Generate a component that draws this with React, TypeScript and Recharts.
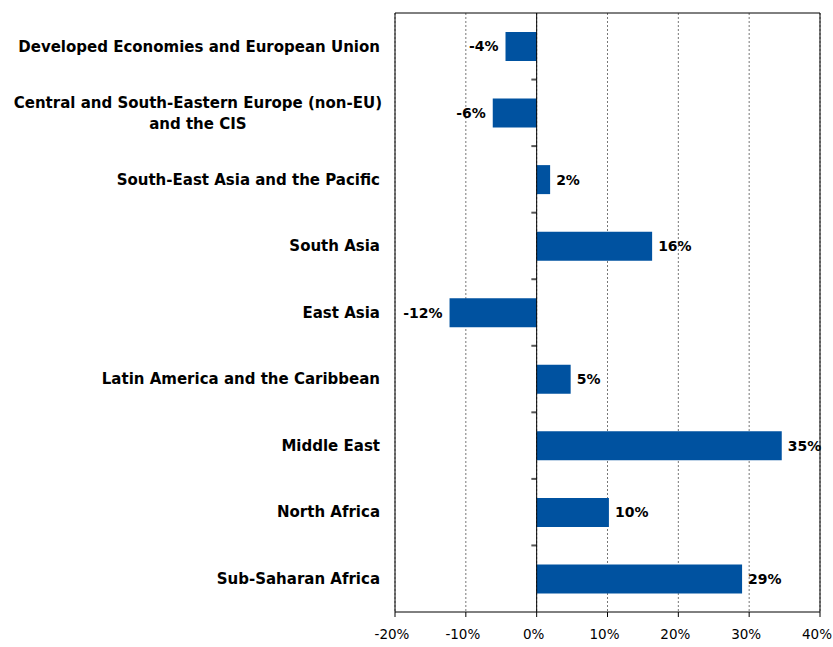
import React from 'react';
import { BarChart, Bar, XAxis, YAxis, CartesianGrid, ReferenceLine, LabelList } from 'recharts';

const categories = [
  'Developed Economies and European Union',
  'Central and South-Eastern Europe (non-EU)|and the CIS',
  'South-East Asia and the Pacific',
  'South Asia',
  'East Asia',
  'Latin America and the Caribbean',
  'Middle East',
  'North Africa',
  'Sub-Saharan Africa',
];
const values = [-4.4, -6.2, 1.9, 16.3, -12.3, 4.8, 34.6, 10.2, 29.0];
const valueLabels = ['-4%', '-6%', '2%', '16%', '-12%', '5%', '35%', '10%', '29%'];
const xTicks = [-20, -10, 0, 10, 20, 30, 40];

const data = categories.map((name, i) => ({ name, value: values[i], label: valueLabels[i] }));

const FONT = '"DejaVu Sans", Verdana, sans-serif';
const CAT_SIZE = 15;

const CategoryTick = (props: any) => {
  const { x, y, payload } = props;
  const lines = String(payload.value).split('|');
  if (lines.length === 1) {
    return (
      <text x={x} y={y} dy="0.35em" textAnchor="end" fontFamily={FONT} fontWeight="bold" fontSize={CAT_SIZE} fill="#000">
        {lines[0]}
      </text>
    );
  }
  let w = 370;
  try {
    const c = document.createElement('canvas').getContext('2d');
    if (c) {
      c.font = `bold ${CAT_SIZE}px ${FONT}`;
      w = Math.max(...lines.map((l) => c.measureText(l).width));
    }
  } catch (e) {
    w = 370;
  }
  const cx = x + 2 - w / 2;
  const lh = 21;
  const startY = y - ((lines.length - 1) * lh) / 2;
  return (
    <text textAnchor="middle" fontFamily={FONT} fontWeight="bold" fontSize={CAT_SIZE} fill="#000">
      {lines.map((l, i) => (
        <tspan key={i} x={cx} y={startY + i * lh} dy="0.35em">
          {l}
        </tspan>
      ))}
    </text>
  );
};

const XTick = (props: any) => {
  const { x, y, payload } = props;
  return (
    <text x={x - 3} y={y} dy="0.71em" textAnchor="middle" fontFamily={FONT} fontSize={13.5} fill="#000">
      {`${payload.value}%`}
    </text>
  );
};

const renderValueLabel = (props: any) => {
  const { x, y, width, height, value } = props;
  const left = Math.min(x, x + width);
  const right = Math.max(x, x + width);
  const neg = String(value).startsWith('-');
  return (
    <text
      x={neg ? left - 7 : right + 6}
      y={y + height / 2}
      dy="0.35em"
      textAnchor={neg ? 'end' : 'start'}
      fontFamily={FONT}
      fontWeight="bold"
      fontSize={14}
      fill="#000"
    >
      {value}
    </text>
  );
};

export default function App() {
  return (
    <div style={{ position: 'absolute', left: 0, top: 0, background: '#fff' }}>
      <BarChart
        width={833}
        height={647}
        data={data}
        layout="vertical"
        margin={{ top: 13, right: 13, bottom: 0, left: 0 }}
        barSize={29}
      >
        <CartesianGrid horizontal={false} vertical stroke="#777" strokeDasharray="2 2" />
        <XAxis
          type="number"
          domain={[-20, 40]}
          ticks={xTicks}
          axisLine={{ stroke: '#000' }}
          tickLine={{ stroke: '#000' }}
          tickSize={5}
          tickMargin={12}
          height={35}
          tick={<XTick />}
          interval={0}
        />
        <YAxis
          type="category"
          dataKey="name"
          width={395}
          axisLine={{ stroke: '#000' }}
          tickLine={false}
          tickSize={0}
          tickMargin={15}
          tick={<CategoryTick />}
          interval={0}
        />
        <ReferenceLine y={categories[0]} position="start" stroke="#000" />
        <ReferenceLine x={40} stroke="#000" />
        {categories.slice(1).map((c) => (
          <ReferenceLine
            key={c}
            position="start"
            segment={[{ x: -0.75, y: c }, { x: 0, y: c }]}
            stroke="#555"
            strokeWidth={2}
          />
        ))}
        <Bar dataKey="value" fill="#0052A0" isAnimationActive={false}>
          <LabelList dataKey="label" content={renderValueLabel} />
        </Bar>
        <ReferenceLine x={0} stroke="#000" />
      </BarChart>
    </div>
  );
}
